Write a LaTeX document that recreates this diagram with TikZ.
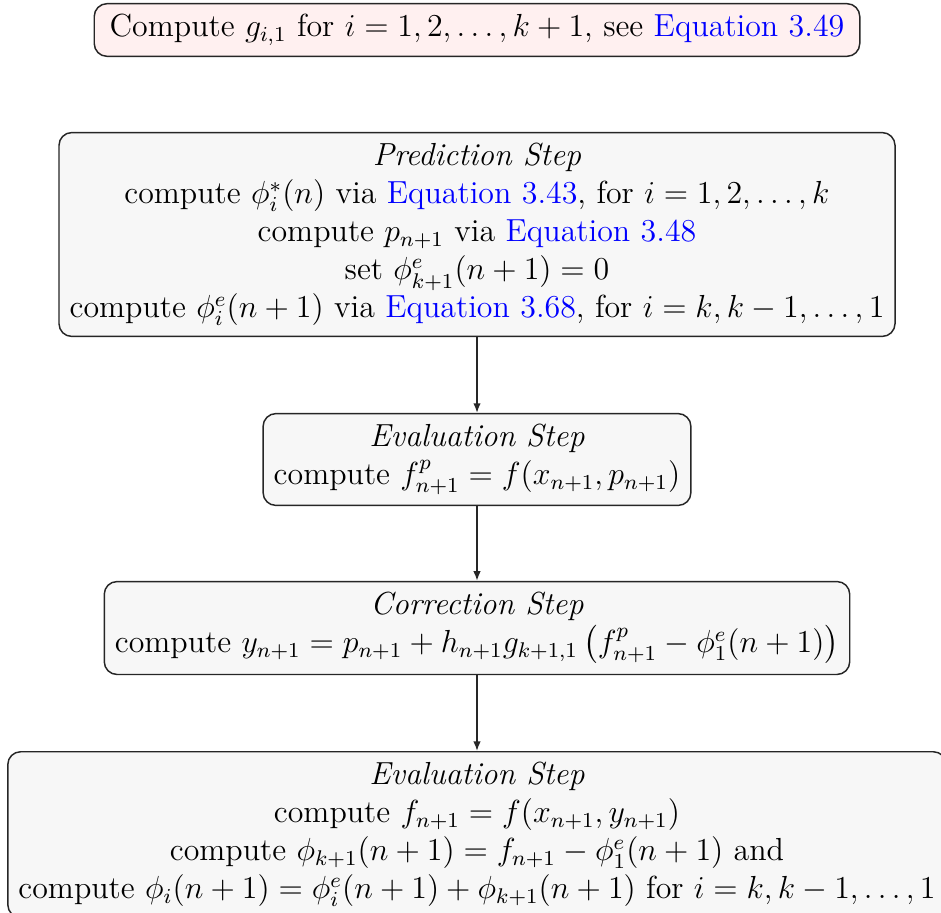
\documentclass[tikz,border=0pt]{standalone}
\usepackage{amsmath}
\usetikzlibrary{arrows.meta}
\newcommand\eqlink[1]{\textcolor{blue}{Equation #1}}
\begin{document}
\begin{tikzpicture}[x=0.376pt,y=-0.376pt,
  box/.style={draw=black!85, rounded corners=4.8pt, fill=black!3, align=center, line width=0.55pt,
    font=\fontsize{12}{14.3}\selectfont, inner sep=4pt},
  topbox/.style={box, fill=red!6, inner xsep=5.8pt},
  arr/.style={-{Latex[length=3.6pt,width=2.8pt]}, line width=0.55pt, draw=black!85}]
\clip (0,0) rectangle (941,912);
\node[topbox] (g) at (477,30) {Compute $g_{i,1}$ for $i=1,2,\ldots,k+1$, see \eqlink{3.49}};
\node[box] (pred) at (477,234.5) {\textit{Prediction Step}\\
  compute $\phi^*_i(n)$ via \eqlink{3.43}, for $i=1,2,\ldots,k$\\
  compute $p_{n+1}$ via \eqlink{3.48}\\
  set $\phi^e_{k+1}(n+1)=0$\\
  compute $\phi^e_i(n+1)$ via \eqlink{3.68}, for $i=k,k-1,\ldots,1$};
\node[box] (ev1) at (477,459.5) {\textit{Evaluation Step}\\
  compute $f^p_{n+1}=f(x_{n+1},p_{n+1})$};
\node[box] (cor) at (477,628) {\textit{Correction Step}\\
  compute $y_{n+1}=p_{n+1}+h_{n+1}g_{k+1,1}\left(f^p_{n+1}-\phi^e_1(n+1)\vphantom{\rule{0pt}{10pt}}\right)$};
\node[box, anchor=north] (ev2) at (477,751) {\textit{Evaluation Step}\\
  compute $f_{n+1}=f(x_{n+1},y_{n+1})$\\
  compute $\phi_{k+1}(n+1)=f_{n+1}-\phi^e_1(n+1)$ and\\
  compute $\phi_i(n+1)=\phi^e_i(n+1)+\phi_{k+1}(n+1)$ for $i=k,k-1,\ldots,1$};
\draw[arr] (pred) -- (ev1);
\draw[arr] (ev1) -- (cor);
\draw[arr] (cor) -- (ev2);
\end{tikzpicture}
\end{document}
